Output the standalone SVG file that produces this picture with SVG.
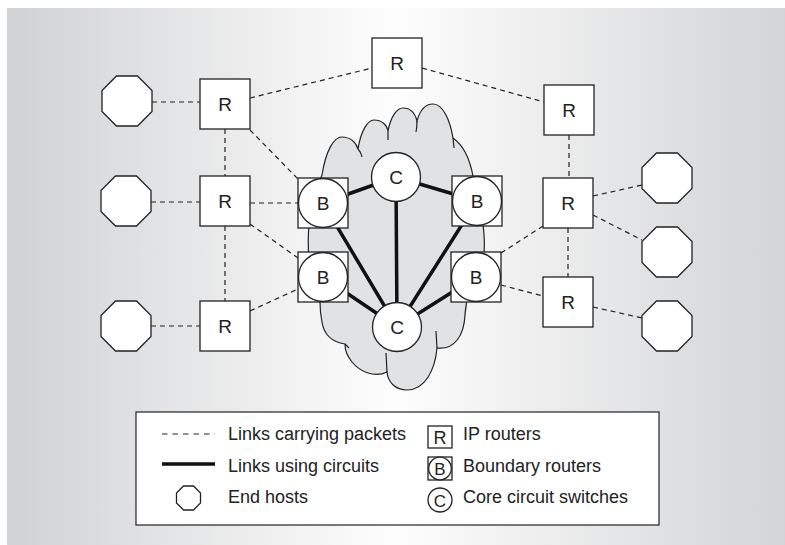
<svg xmlns="http://www.w3.org/2000/svg" xmlns:xlink="http://www.w3.org/1999/xlink" width="785" height="545" viewBox="0 0 785 545">
<defs>
<linearGradient id="bg" x1="0" y1="0" x2="1" y2="0">
<stop offset="0" stop-color="#d1d2d4"/>
<stop offset="0.5" stop-color="#fdfdfd"/>
<stop offset="1" stop-color="#d3d4d6"/>
</linearGradient>
<polygon id="oct" points="-10.5,-25 10.5,-25 25,-10.5 25,10.5 10.5,25 -10.5,25 -25,10.5 -25,-10.5"/>
<polygon id="octs" points="-5,-12 5,-12 12,-5 12,5 5,12 -5,12 -12,5 -12,-5"/>
</defs>
<style>
.n{fill:#fff;stroke:#222;stroke-width:1.3}
.d{fill:none;stroke:#222;stroke-width:1.2;stroke-dasharray:5 4}
.t{fill:none;stroke:#111;stroke-width:3.5}
.lbl{font-family:"Liberation Sans",Arial,sans-serif;font-size:19px;fill:#222;text-anchor:middle}
.lg{font-family:"Liberation Sans",Arial,sans-serif;font-size:18px;fill:#222}
.cl{fill:#e1e2e4;stroke:#222;stroke-width:1.2}
.hk{fill:none;stroke:#222;stroke-width:1.2}
</style>
<rect x="0" y="0" width="785" height="545" fill="#fff"/>
<rect x="7" y="8" width="778" height="537" fill="url(#bg)"/>

<g id="cloud">
<path class="cl" d="M320,302 C305,270 303,215 322,175 C326,150 334,137 342,137 C350,137 356,142 358,149 C361,130 368,120 374,120 C382,120 387,125 388,131 C391,116 397,108 403,108 C410,108 415,113 417,121 C420,110 425,104 433,104 C443,104 450,120 453,138 C463,145 470,160 473,176 C480,195 483,215 484,235 C485,250 484,262 480,272 C470,285 466,300 465,315 C464,335 455,350 437,348 C435,370 425,390 407,390 C395,390 388,382 387,372 C375,378 360,372 352,362 C347,356 345,350 345,344 C332,342 324,335 322,322 C320,312 320,306 320,302 Z"/>
<path class="hk" d="M358,149 Q361,152 362,157 M388,131 L388,140 M417,121 Q417,127 416,132 M453,138 L454,148 M437,348 L436,331 M387,372 L386,353 M345,344 L349,348"/>
</g>

<g id="connectors">
<path class="d" d="M152,102 H200 M151,202 H200 M151,326 H200 M225,129 V176 M225,226 V301 M250,98 L372,68 M422,68 L544,102 M250,130 L298,179 M250,203 H298 M250,224 L298,258 M250,311 L298,289 M569,135 V178 M568,228 V277 M501,253 L543,226 M501,285 L543,296 M593,196 L642,185 M593,215 L642,240 M593,307 L642,318"/>
<path class="t" d="M396,177 L323,203 M396,177 L477,201 M396,177 L397,327 M397,327 L323,203 M397,327 L477,201 M397,327 L323,277 M397,327 L476,277"/>
</g>

<g id="h1"><use xlink:href="#oct" href="#oct" x="127" y="101" class="n"/></g>
<g id="h2"><use xlink:href="#oct" href="#oct" x="126" y="201" class="n"/></g>
<g id="h3"><use xlink:href="#oct" href="#oct" x="126" y="326" class="n"/></g>
<g id="h4"><use xlink:href="#oct" href="#oct" x="667" y="178" class="n"/></g>
<g id="h5"><use xlink:href="#oct" href="#oct" x="667" y="252" class="n"/></g>
<g id="h6"><use xlink:href="#oct" href="#oct" x="667" y="326" class="n"/></g>

<g id="r1"><rect class="n" x="200" y="79" width="50" height="50"/><text class="lbl" x="225" y="111">R</text></g>
<g id="r2"><rect class="n" x="200" y="176" width="50" height="50"/><text class="lbl" x="225" y="208">R</text></g>
<g id="r3"><rect class="n" x="200" y="301" width="50" height="50"/><text class="lbl" x="225" y="333">R</text></g>
<g id="r4"><rect class="n" x="372" y="38" width="50" height="50"/><text class="lbl" x="397" y="70">R</text></g>
<g id="r5"><rect class="n" x="544" y="85" width="50" height="50"/><text class="lbl" x="569" y="117">R</text></g>
<g id="r6"><rect class="n" x="543" y="178" width="50" height="50"/><text class="lbl" x="568" y="210">R</text></g>
<g id="r7"><rect class="n" x="543" y="277" width="50" height="50"/><text class="lbl" x="568" y="309">R</text></g>

<g id="b1"><rect class="n" x="298" y="178" width="50" height="50"/><circle class="n" cx="323" cy="203" r="24.5"/><text class="lbl" x="323" y="210">B</text></g>
<g id="b2"><rect class="n" x="452" y="176" width="50" height="50"/><circle class="n" cx="477" cy="201" r="24.5"/><text class="lbl" x="477" y="208">B</text></g>
<g id="b3"><rect class="n" x="298" y="252" width="50" height="50"/><circle class="n" cx="323" cy="277" r="24.5"/><text class="lbl" x="323" y="284">B</text></g>
<g id="b4"><rect class="n" x="451" y="252" width="50" height="50"/><circle class="n" cx="476" cy="277" r="24.5"/><text class="lbl" x="476" y="284">B</text></g>

<g id="c1"><circle class="n" cx="396" cy="177" r="24.5"/><text class="lbl" x="396" y="184">C</text></g>
<g id="c2"><circle class="n" cx="397" cy="327" r="24.5"/><text class="lbl" x="397" y="334">C</text></g>

<g id="legend">
<rect x="136" y="412" width="523" height="113" fill="#fff" stroke="#222" stroke-width="1.2"/>
<path d="M162,434 H215" fill="none" stroke="#222" stroke-width="1.2" stroke-dasharray="5.5 5"/>
<text class="lg" x="228" y="440">Links carrying packets</text>
<path d="M162,464 H215" fill="none" stroke="#111" stroke-width="3.5"/>
<text class="lg" x="228" y="472">Links using circuits</text>
<use xlink:href="#octs" href="#octs" x="188.5" y="498" class="n"/>
<text class="lg" x="228" y="503">End hosts</text>
<rect class="n" x="428" y="426" width="24" height="22"/>
<text class="lbl" x="440" y="444" style="font-size:18px">R</text>
<text class="lg" x="463" y="440">IP routers</text>
<rect class="n" x="428" y="457" width="24" height="23"/>
<circle class="n" cx="440" cy="468.5" r="11.3"/>
<text class="lbl" x="440" y="475" style="font-size:17px">B</text>
<text class="lg" x="463" y="472">Boundary routers</text>
<circle class="n" cx="440" cy="500" r="12"/>
<text class="lbl" x="440" y="506.5" style="font-size:17px">C</text>
<text class="lg" x="463" y="503">Core circuit switches</text>
</g>
</svg>
